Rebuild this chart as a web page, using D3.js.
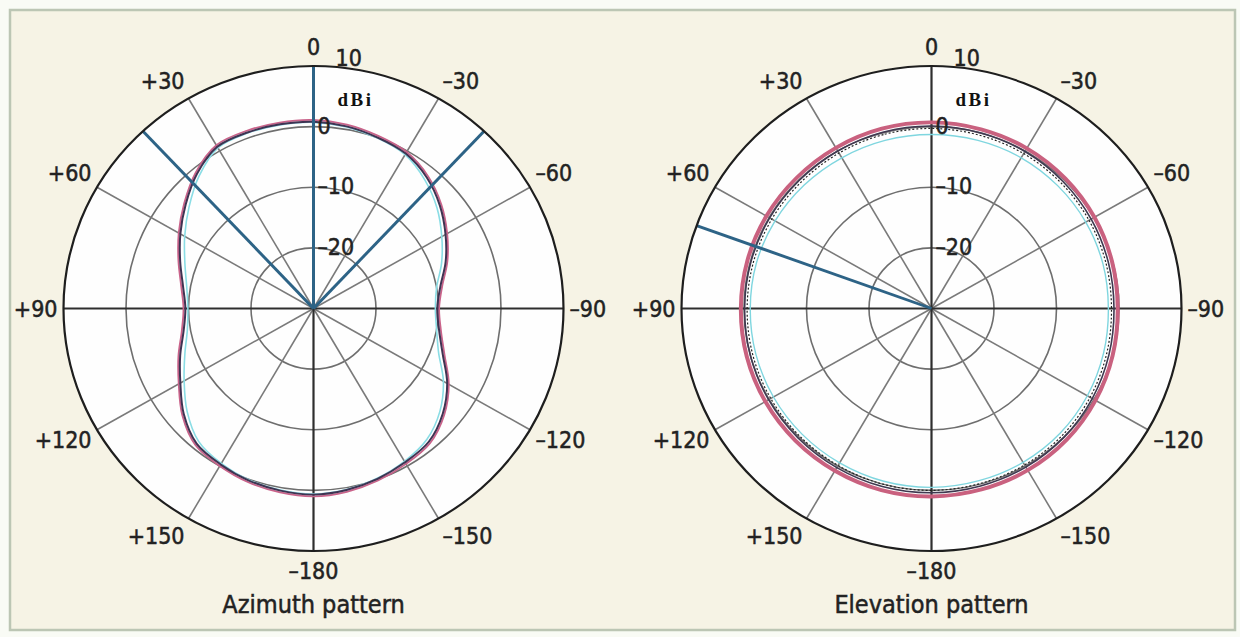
<!DOCTYPE html>
<html><head><meta charset="utf-8">
<script src="https://cdn.jsdelivr.net/npm/d3@7"></script>
<style>html,body{margin:0;padding:0;background:#f9fbf5;} svg{display:block;}</style>
</head><body><svg id="c" width="1240" height="637"></svg>
<script>
// ---- data ----
// angles in degrees, positive = counter-clockwise (left side), as labelled on the chart
const azAngles = [0,10,20,30,40,50,60,70,80,90,100,110,120,130,140,150,160,170,180,
                  -170,-160,-150,-140,-130,-120,-110,-100,-90,-80,-70,-60,-50,-40,-30,-20,-10];
const azDark = [0.8,0.85,0.9,0.8,-1.0,-3.3,-5.4,-7.3,-8.8,-9.5,-8.9,-7.3,-5.4,-2.9,-0.9,-0.3,0.2,0.5,0.7,
                0.4,-0.1,-0.7,-1.3,-3.0,-5.3,-8.0,-9.6,-10.2,-9.4,-7.5,-5.6,-3.6,-1.8,-0.5,0.0,0.5];
const azPink = [1.1,1.15,1.2,1.1,-0.7,-3.0,-5.1,-7.0,-8.5,-9.2,-8.6,-7.0,-5.1,-2.6,-0.6,0.0,0.5,0.8,1.0,
                0.7,0.2,-0.4,-1.0,-2.7,-5.0,-7.7,-9.3,-9.9,-9.1,-7.2,-5.3,-3.3,-1.5,-0.2,0.3,0.8];
const azCyan = [0.7,0.75,0.8,0.6,-1.5,-4.0,-6.2,-8.1,-9.4,-9.9,-9.5,-8.1,-6.1,-3.6,-1.4,-0.5,0.1,0.4,0.6,
                0.3,-0.2,-0.9,-1.8,-3.6,-6.0,-8.7,-10.0,-10.5,-10.0,-8.2,-6.3,-4.2,-2.3,-0.7,-0.1,0.4];

const elAngles = [0,15,30,45,60,75,90,105,120,135,150,165,180,-165,-150,-135,-120,-105,-90,-75,-60,-45,-30,-15];
const elPink = [0.7,0.7,0.6,0.5,0.5,0.5,0.5,0.6,0.7,0.8,0.9,1.0,1.0,0.9,0.8,0.6,0.3,0.0,-0.2,-0.1,0.1,0.3,0.5,0.6];
const elDark = [0.1,0.1,0.0,-0.1,-0.1,-0.1,-0.1,0.0,0.1,0.2,0.3,0.4,0.4,0.3,0.2,0.0,-0.3,-0.6,-0.8,-0.7,-0.5,-0.3,-0.1,0.0];
const elDots = [-0.3,-0.3,-0.4,-0.5,-0.5,-0.5,-0.5,-0.4,-0.3,-0.2,-0.1,0.0,0.0,-0.1,-0.2,-0.4,-0.7,-1.0,-1.2,-1.1,-0.9,-0.7,-0.5,-0.4];
const elCyan = [-1.3,-1.3,-1.3,-1.2,-1.1,-1.0,-1.0,-0.9,-0.8,-0.7,-0.6,-0.5,-0.5,-0.6,-0.7,-0.9,-1.2,-1.5,-1.7,-1.6,-1.5,-1.4,-1.3,-1.3];

const spokeAngles = [0,30,60,90,120,150,180,-150,-120,-90,-60,-30];
const spokeLabels = ["0","+30","+60","+90","+120","+150","–180","–150","–120","–90","–60","–30"];
const ringValues = [-20,-10,0];
const ringLabels = ["–20","–10","0"];
const outerValue = 10;
const outerLabel = "10";
const unitLabel = "dBi";
const titles = ["Azimuth pattern","Elevation pattern"];
const azBeams = [0,43,-43];
const elBeams = [70];

// ---- drawing ----
const svg = d3.select("#c");
svg.append("rect").attr("x",10).attr("y",10).attr("width",1225).attr("height",620)
  .attr("fill","#f6f3e5").attr("stroke","#bcc6b4").attr("stroke-width",2.5);

const R = 250, SY = 0.97;
const r = d3.scaleLinear().domain([-30, outerValue]).range([0, R]);
const toRad = a => a*Math.PI/180;
const labelFont = "'Liberation Sans Narrow','DejaVu Sans Condensed','Roboto Condensed',sans-serif";

function series(angs, vals){ return angs.map((a,i)=>({a, v: vals[i]})); }
const radial = d3.lineRadial().angle(d=>-toRad(d.a)).radius(d=>r(d.v)).curve(d3.curveCatmullRomClosed.alpha(0.5));

const charts = [
  {cx:313.5, cy:308.5, title:titles[0], beams:azBeams, angs:azAngles, lines:[
    {vals:azCyan, stroke:"#8adde5", w:1.6},
    {vals:azPink, stroke:"#c9638a", w:1.8},
    {vals:azDark, stroke:"#3f3352", w:2}]},
  {cx:931.5, cy:308.5, title:titles[1], beams:elBeams, angs:elAngles, lines:[
    {vals:elCyan, stroke:"#7fd6df", w:1.4},
    {vals:elPink, stroke:"#c9617f", w:4},
    {vals:elDark, stroke:"#3f3850", w:1.6},
    {vals:elDots, stroke:"#222", w:1.2, dash:"2,2"}]}
];

charts.forEach(ch=>{
  const g = svg.append("g").attr("transform",`translate(${ch.cx},${ch.cy}) scale(1,${SY})`);
  g.append("circle").attr("r",r(outerValue)).attr("fill","#fefefe");
  g.selectAll("circle.ring").data(ringValues).join("circle").attr("class","ring")
    .attr("r",d=>r(d)).attr("fill","none").attr("stroke","#6e6e6e").attr("stroke-width",1.6);
  g.selectAll("line.spoke").data(spokeAngles.filter(a=>a%90!==0)).join("line").attr("class","spoke")
    .attr("x1",0).attr("y1",0)
    .attr("x2",a=>-r(outerValue)*Math.sin(toRad(a))).attr("y2",a=>-r(outerValue)*Math.cos(toRad(a)))
    .attr("stroke","#7a7a7a").attr("stroke-width",1.6);
  g.selectAll("line.axis").data([0,90,180,-90]).join("line").attr("class","axis")
    .attr("x1",0).attr("y1",0)
    .attr("x2",a=>-r(outerValue)*Math.sin(toRad(a))).attr("y2",a=>-r(outerValue)*Math.cos(toRad(a)))
    .attr("stroke","#2e2e2e").attr("stroke-width",2.2);
  ch.lines.forEach(l=>{
    g.append("path").attr("d",radial(series(ch.angs, l.vals))).attr("fill","none")
      .attr("stroke",l.stroke).attr("stroke-width",l.w).attr("stroke-dasharray",l.dash||null);
  });
  g.selectAll("line.beam").data(ch.beams).join("line").attr("class","beam")
    .attr("x1",0).attr("y1",0)
    .attr("x2",a=>-r(outerValue)*Math.sin(toRad(a))).attr("y2",a=>-r(outerValue)*Math.cos(toRad(a)))
    .attr("stroke","#2d6386").attr("stroke-width",3);
  g.append("circle").attr("r",r(outerValue)).attr("fill","none").attr("stroke","#1e1e1e").attr("stroke-width",2.2);

  const tg = svg.append("g").attr("fill","#222").attr("stroke","#222").attr("stroke-width",0.5)
    .style("font-family",labelFont).style("font-size","23px");
  spokeAngles.forEach((a,i)=>{
    const s = Math.sin(toRad(a)), c = Math.cos(toRad(a));
    const ex = ch.cx - r(outerValue)*s, ey = ch.cy - r(outerValue)*c*SY;
    let x = ex, y, anchor = "middle";
    if (Math.abs(a)===90) y = ey + 8;
    else if (Math.abs(a)<90) y = ey - 2 - 9*Math.abs(c);
    else y = ey + 8 + 20*Math.abs(c);
    if (a>0 && a<180){ anchor="end"; x = ex - (2+4*Math.abs(s)); }
    else if (a<0){ anchor="start"; x = ex + (2+4*Math.abs(s)); }
    if (a===0) y = ey - 11;
    tg.append("text").attr("x",x).attr("y",y).attr("text-anchor",anchor).text(spokeLabels[i]);
  });
  const rg = svg.append("g").attr("fill","#222").attr("stroke","#222").attr("stroke-width",0.5)
    .style("font-family",labelFont).style("font-size","23px");
  ringValues.forEach((v,i)=>{
    rg.append("text").attr("x",ch.cx+4).attr("y",ch.cy - r(v)*SY + 7).text(ringLabels[i]);
  });
  rg.append("text").attr("x",ch.cx+22).attr("y",ch.cy - r(outerValue)*SY).text(outerLabel);
  svg.append("text").attr("x",ch.cx+24).attr("y",ch.cy-203).attr("fill","#111")
    .style("font-family","'Liberation Serif','DejaVu Serif',serif").style("font-size","19px")
    .style("font-weight","bold").style("letter-spacing","2.5px").text(unitLabel);
  svg.append("text").attr("x",ch.cx).attr("y",ch.cy+304).attr("text-anchor","middle")
    .attr("fill","#222").attr("stroke","#222").attr("stroke-width",0.5)
    .style("font-family",labelFont).style("font-size","25px").text(ch.title);
});
</script></body></html>
